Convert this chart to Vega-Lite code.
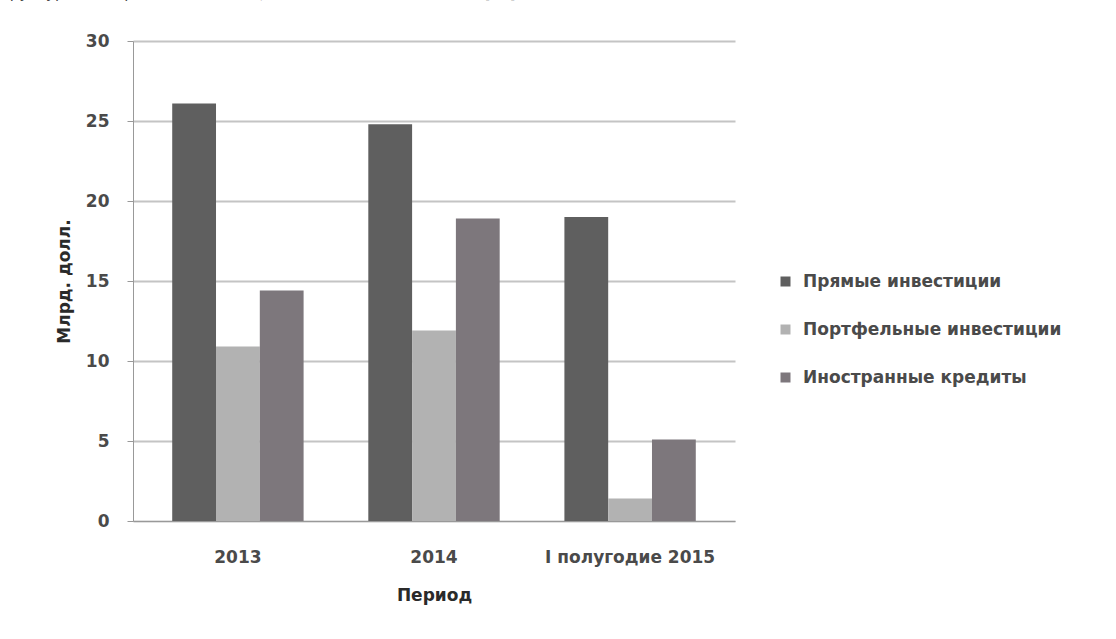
{
  "$schema": "https://vega.github.io/schema/vega-lite/v6.json",
  "width": 602,
  "height": 480,
  "autosize": {"type": "none"},
  "padding": {"left": 133, "top": 41, "right": 381, "bottom": 118},
  "background": "white",
  "title": {
    "text": "Рисунок 2 – Структура иностранных инвестиций в России в 2013-2015 гг. [21]",
    "anchor": "start",
    "dx": -160,
    "offset": 31,
    "font": "DejaVu Sans",
    "fontSize": 15,
    "fontWeight": "normal",
    "color": "#444444"
  },
  "data": {
    "values": [
      {"period": "2013", "type": "Прямые инвестиции", "value": 26.1},
      {"period": "2013", "type": "Портфельные инвестиции", "value": 10.9},
      {"period": "2013", "type": "Иностранные кредиты", "value": 14.4},
      {"period": "2014", "type": "Прямые инвестиции", "value": 24.8},
      {"period": "2014", "type": "Портфельные инвестиции", "value": 11.9},
      {"period": "2014", "type": "Иностранные кредиты", "value": 18.9},
      {"period": "I полугодие 2015", "type": "Прямые инвестиции", "value": 19.0},
      {"period": "I полугодие 2015", "type": "Портфельные инвестиции", "value": 1.4},
      {"period": "I полугодие 2015", "type": "Иностранные кредиты", "value": 5.1}
    ]
  },
  "mark": {"type": "bar"},
  "encoding": {
    "x": {
      "field": "period",
      "type": "nominal",
      "sort": ["2013", "2014", "I полугодие 2015"],
      "scale": {"paddingInner": 0.33, "paddingOuter": 0.2},
      "axis": {
        "title": "Период",
        "labelAngle": 0,
        "ticks": false,
        "labelPadding": 28,
        "titlePadding": 22,
        "domainColor": "#999999",
        "labelFont": "DejaVu Sans",
        "labelFontSize": 17,
        "labelFontWeight": "bold",
        "labelColor": "#4a4a4a",
        "titleFont": "DejaVu Sans",
        "titleFontSize": 17,
        "titleFontWeight": "bold",
        "titleColor": "#2a2a2a"
      }
    },
    "xOffset": {
      "field": "type",
      "type": "nominal",
      "sort": ["Прямые инвестиции", "Портфельные инвестиции", "Иностранные кредиты"],
      "scale": {"paddingInner": 0, "paddingOuter": 0}
    },
    "y": {
      "field": "value",
      "type": "quantitative",
      "scale": {"domain": [0, 30], "nice": false},
      "axis": {
        "title": "Млрд. долл.",
        "values": [0, 5, 10, 15, 20, 25, 30],
        "tickSize": 6,
        "tickColor": "#999999",
        "domainColor": "#999999",
        "gridColor": "#c4c4c4",
        "gridWidth": 2,
        "labelPadding": 18,
        "labelFont": "DejaVu Sans",
        "labelFontSize": 17,
        "labelFontWeight": "bold",
        "labelColor": "#4a4a4a",
        "titleFont": "DejaVu Sans",
        "titleFontSize": 17,
        "titleFontWeight": "bold",
        "titleColor": "#2a2a2a",
        "titlePadding": 12
      }
    },
    "color": {
      "field": "type",
      "type": "nominal",
      "sort": ["Прямые инвестиции", "Портфельные инвестиции", "Иностранные кредиты"],
      "scale": {
        "domain": ["Прямые инвестиции", "Портфельные инвестиции", "Иностранные кредиты"],
        "range": ["#5f5f5f", "#b2b2b2", "#7d777c"]
      },
      "legend": {
        "title": null,
        "orient": "none",
        "legendX": 644,
        "legendY": 232,
        "symbolType": "square",
        "symbolSize": 100,
        "rowPadding": 30,
        "labelFont": "DejaVu Sans",
        "labelFontSize": 17,
        "labelFontWeight": "bold",
        "labelColor": "#4a4a4a",
        "labelOffset": 9,
        "labelLimit": 400
      }
    }
  },
  "config": {
    "view": {"stroke": null}
  }
}
